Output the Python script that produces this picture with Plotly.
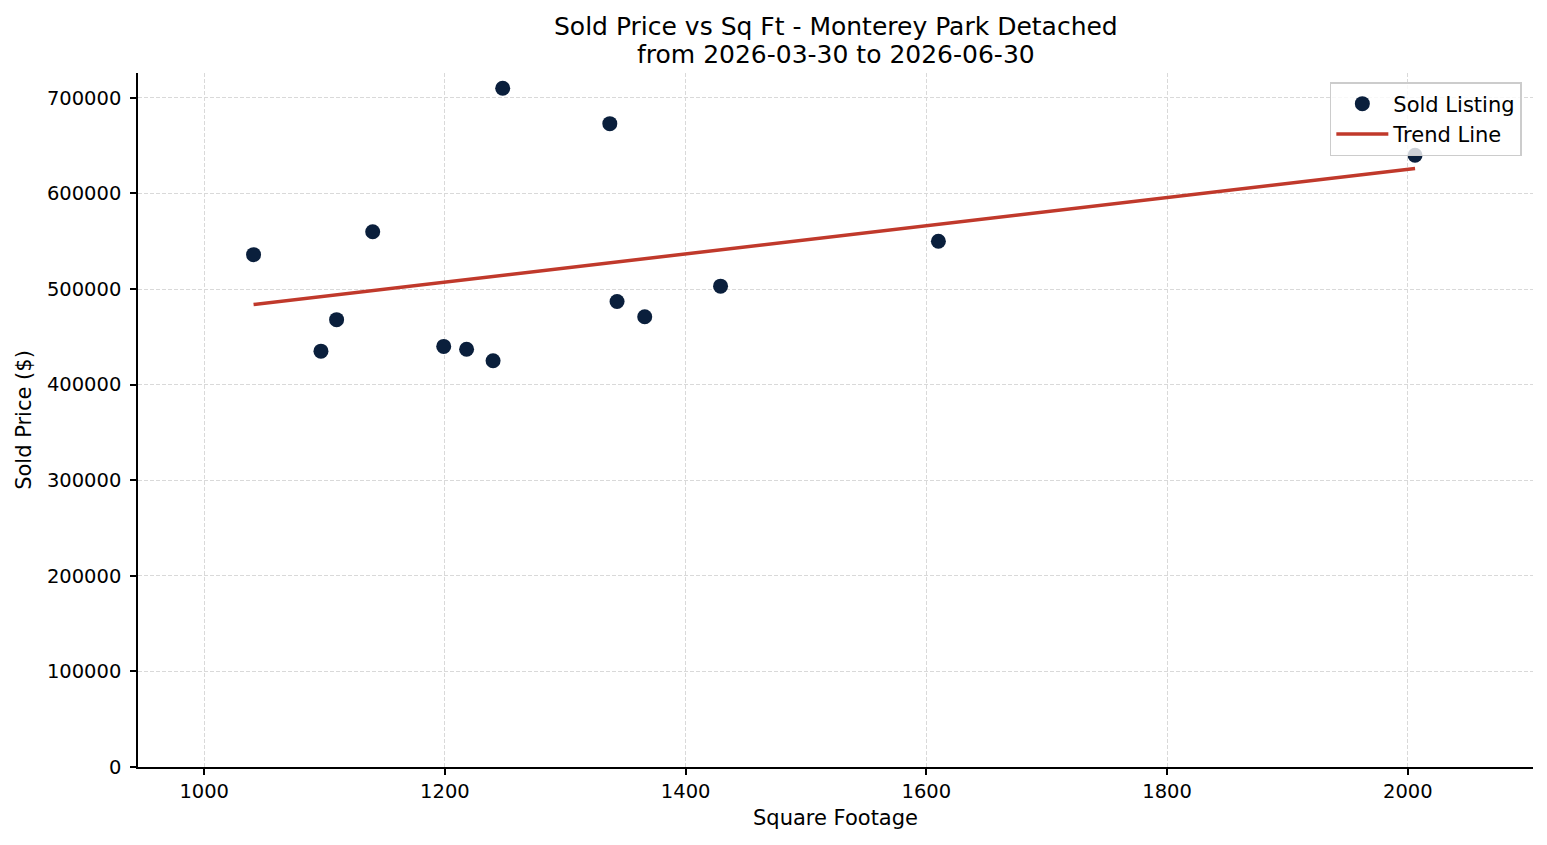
import numpy as np
import plotly.graph_objects as go

sqft = [1041, 1097, 1110, 1140, 1199, 1218, 1240, 1248, 1337, 1343, 1366, 1429, 1610, 2006]
price = [536000, 435000, 468000, 560000, 440000, 437000, 425000, 710000, 673000, 487000, 471000, 503000, 550000, 640000]

x_ticks = [1000, 1200, 1400, 1600, 1800, 2000]
y_ticks = [0, 100000, 200000, 300000, 400000, 500000, 600000, 700000]

title_lines = ["Sold Price vs Sq Ft - Monterey Park Detached", "from 2026-03-30 to 2026-06-30"]

coef = np.polyfit(sqft, price, 1)
tx = np.array([min(sqft), max(sqft)])
ty = np.polyval(coef, tx)

font = "DejaVu Sans"
fig = go.Figure()
fig.add_trace(go.Scatter(x=sqft, y=price, mode="markers", name="Sold Listing",
                         marker=dict(color="#0a1f3c", size=15, line=dict(width=0))))
fig.add_trace(go.Scatter(x=tx, y=ty, mode="lines", name="Trend Line",
                         line=dict(color="#c0392b", width=3.5)))

axis_common = dict(showline=True, linecolor="black", linewidth=1.5, ticks="outside",
                   ticklen=6, tickwidth=1.5, tickcolor="black", showgrid=True, gridcolor="#d9d9d9",
                   griddash="4px,2px", gridwidth=0.8, zeroline=False, mirror=False,
                   tickfont=dict(family=font, size=19.5, color="black"))
H = 845
T, B = 73, 78
ph = H - T - B
fig.update_layout(
    width=1547, height=H, plot_bgcolor="white", paper_bgcolor="white",
    margin=dict(l=138, r=14, t=T, b=B),
    xaxis=dict(range=[945, 2104], tickvals=x_ticks, ticklabelstandoff=0,
               title=dict(text="Square Footage", font=dict(family=font, size=21, color="black"), standoff=8),
               **axis_common),
    yaxis=dict(range=[0, 726000], tickvals=y_ticks, tickformat="d", ticklabelstandoff=5,
               title=dict(text="Sold Price ($)", font=dict(family=font, size=21, color="black"), standoff=10),
               **axis_common),
    legend=dict(x=0.992, y=0.987, xanchor="right", yanchor="top", itemwidth=52,
                bgcolor="rgba(255,255,255,0.8)", bordercolor="#cccccc", borderwidth=1.5,
                font=dict(family=font, size=21, color="black")),
    showlegend=True,
)
for txt, ypx in zip(title_lines, [26, 54]):
    fig.add_annotation(text=txt, x=0.5, xref="paper", y=(H - B - ypx) / ph, yref="paper",
                       xanchor="center", yanchor="middle", showarrow=False,
                       font=dict(family=font, size=25, color="black"))
fig.write_html("out.html")
